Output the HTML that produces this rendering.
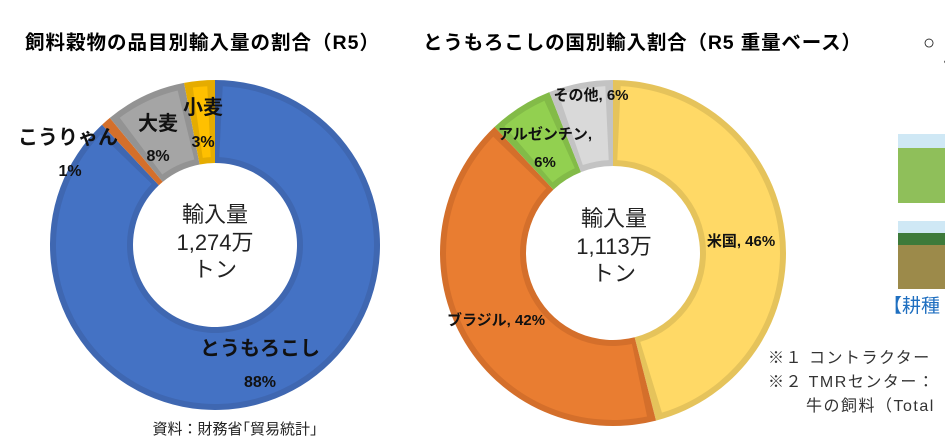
<!DOCTYPE html>
<html><head><meta charset="utf-8"><style>
body{margin:0;width:945px;height:447px;background:#fff;overflow:hidden;font-family:"Liberation Sans","Noto Sans CJK JP",sans-serif;}
svg{position:absolute;left:0;top:0}
</style></head><body>
<svg width="945" height="447" viewBox="0 0 945 447">
<text x="202" y="49" text-anchor="middle" font-size="19.5" font-weight="bold" textLength="354">飼料穀物の品目別輸入量の割合（R5）</text>
<text x="642" y="49" text-anchor="middle" font-size="19.5" font-weight="bold" textLength="438">とうもろこしの国別輸入割合（R5 重量ベース）</text>
<g id="left"></g>
<g id="right"></g>
<g font-size="22" text-anchor="middle" fill="#222">
<text x="215" y="222">輸入量</text>
<text x="215" y="250">1,274万</text>
<text x="215" y="277">トン</text>
<text x="614" y="226">輸入量</text>
<text x="614" y="254">1,113万</text>
<text x="614" y="281">トン</text>
</g>
<g font-weight="bold" fill="#111" text-anchor="middle">
<text x="68" y="144" font-size="20">こうりゃん</text>
<text x="70" y="176" font-size="16">1%</text>
<text x="158" y="130" font-size="20">大麦</text>
<text x="158" y="161" font-size="16">8%</text>
<text x="203" y="114" font-size="20">小麦</text>
<text x="203" y="147" font-size="16">3%</text>
<text x="260" y="355" font-size="20">とうもろこし</text>
<text x="260" y="387" font-size="16">88%</text>
<text x="591" y="100" font-size="15">その他, 6%</text>
<text x="545" y="139" font-size="15">アルゼンチン,</text>
<text x="545" y="167" font-size="15">6%</text>
<text x="741" y="246" font-size="15">米国, 46%</text>
<text x="496" y="325" font-size="15">ブラジル, 42%</text>
</g>
<text x="235" y="434" text-anchor="middle" font-size="15" fill="#222">資料：財務省｢貿易統計｣</text>
<text x="923" y="49" font-size="20" fill="#222">○</text>
<text x="938" y="68" font-size="16" fill="#222">・</text>
<rect x="898" y="134" width="47" height="69" fill="#8fbf5a"/>
<rect x="898" y="134" width="47" height="14" fill="#cfe8f5"/>
<rect x="898" y="221" width="47" height="68" fill="#9c8a4a"/>
<rect x="898" y="221" width="47" height="12" fill="#cfe8f5"/>
<rect x="898" y="233" width="47" height="12" fill="#3d7a3a"/>
<text x="883" y="312" font-size="19" fill="#1f6fc0">【耕種</text>
<g font-size="16" fill="#333" letter-spacing="1.5">
<text x="768" y="363">※１ コントラクター</text>
<text x="768" y="387">※２ TMRセンター：</text>
<text x="806" y="411">牛の飼料（Total</text>
</g>
</svg>
<script>
const leftCategories=['とうもろこし','こうりゃん','大麦','小麦'];
const leftValues=[88,1,8,3];
const leftFill=['#4472C4','#ED7D31','#A5A5A5','#FFC000'];
const leftEdge=['#3F67B1','#D46F2B','#939393','#E5AC00'];
const rightCategories=['米国','ブラジル','アルゼンチン','その他'];
const rightValues=[46,42,6,6];
const rightFill=['#FFD966','#E97D31','#92D050','#D9D9D9'];
const rightEdge=['#E5C35B','#D46F2B','#83BB48','#C3C3C3'];
const NS='http://www.w3.org/2000/svg';
function arcPath(cx,cy,R,r,a0,a1){
  const p=(rad,a)=>[cx+rad*Math.sin(a),cy-rad*Math.cos(a)];
  const lg=(a1-a0)>Math.PI?1:0;
  const [x0,y0]=p(R,a0),[x1,y1]=p(R,a1),[x2,y2]=p(r,a1),[x3,y3]=p(r,a0);
  return `M${x0},${y0}A${R},${R} 0 ${lg} 1 ${x1},${y1}L${x2},${y2}A${r},${r} 0 ${lg} 0 ${x3},${y3}Z`;
}
function donut(gid,cats,vals,fill,edge,cx,cy,R,r){
  const g=document.getElementById(gid);
  const tot=vals.reduce((a,b)=>a+b,0);
  let a=0;
  vals.forEach((v,i)=>{
    const a1=a+v/tot*2*Math.PI;
    const outer=document.createElementNS(NS,'path');
    outer.setAttribute('d',arcPath(cx,cy,R,r,a,a1));
    outer.setAttribute('fill',edge[i]);
    
    
    g.appendChild(outer);
    const inset=6, da=inset/((R+r)/2);
    if(a1-a>2*da){
      const inner=document.createElementNS(NS,'path');
      inner.setAttribute('d',arcPath(cx,cy,R-inset,r+inset,a+da,a1-da));
      inner.setAttribute('fill',fill[i]);
      
      
      g.appendChild(inner);
    }
    a=a1;
  });
}
donut('left',leftCategories,leftValues,leftFill,leftEdge,215,245,165,82);
donut('right',rightCategories,rightValues,rightFill,rightEdge,613,253,173,87);
</script>
</body></html>
